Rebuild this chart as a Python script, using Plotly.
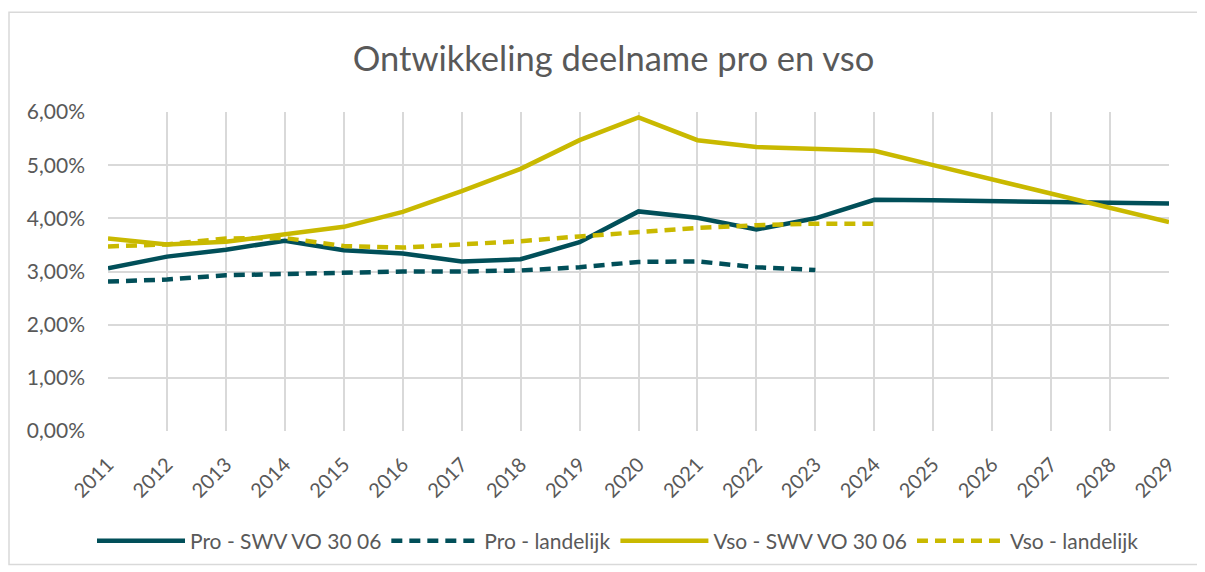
import plotly.graph_objects as go

years = list(range(2011, 2030))
pro_swv = [3.06, 3.28, 3.41, 3.58, 3.40, 3.34, 3.19, 3.23, 3.55, 4.13, 4.01, 3.79, 4.00,
           4.35, 4.34, 4.32, 4.31, 4.30, 4.28]
pro_land = [2.81, 2.85, 2.93, 2.96, 2.98, 3.00, 3.00, 3.02, 3.08, 3.18, 3.19, 3.08, 3.03]
vso_swv = [3.62, 3.51, 3.56, 3.69, 3.84, 4.12, 4.51, 4.93, 5.47, 5.90, 5.47, 5.34, 5.30,
           5.27, 5.00, 4.73, 4.46, 4.19, 3.93]
vso_land = [3.47, 3.51, 3.62, 3.63, 3.48, 3.45, 3.51, 3.57, 3.66, 3.74, 3.82, 3.87, 3.90, 3.90]
y_ticks = [0, 1, 2, 3, 4, 5, 6]
y_ticktext = ["0,00%", "1,00%", "2,00%", "3,00%", "4,00%", "5,00%", "6,00%"]

teal = "#014F59"
yellow = "#C9B900"
font = "Lato"

W, H = 1197, 564
L, R, T, B = 100, 36, 104, 140
pw, ph = W - L - R, H - T - B

fig = go.Figure()
fig.add_trace(go.Scatter(x=years, y=pro_swv, mode="lines", name="Pro - SWV VO 30 06",
                         line=dict(color=teal, width=4.5)))
fig.add_trace(go.Scatter(x=years[:len(pro_land)], y=pro_land, mode="lines", name="Pro - landelijk",
                         line=dict(color=teal, width=4.5, dash="11px,7px")))
fig.add_trace(go.Scatter(x=years, y=vso_swv, mode="lines", name="Vso - SWV VO 30 06",
                         line=dict(color=yellow, width=4.5)))
fig.add_trace(go.Scatter(x=years[:len(vso_land)], y=vso_land, mode="lines", name="Vso - landelijk",
                         line=dict(color=yellow, width=4.5, dash="11px,7px")))

fig.update_layout(
    width=W, height=H,
    margin=dict(l=L, r=R, t=T, b=B),
    paper_bgcolor="white", plot_bgcolor="white",
    font=dict(family=font, color="#595959", size=17),
    title=dict(text="Ontwikkeling deelname pro en vso", x=605.5 / W, xanchor="center",
               y=1 - 51 / H, yanchor="middle",
               font=dict(family=font, size=34.5, color="#595959")),
    xaxis=dict(range=[2011, 2029], tickmode="array", tickvals=years,
               ticktext=[str(y) for y in years], tickangle=-45,
               showgrid=True, gridcolor="#D9D9D9", gridwidth=1.5,
               zeroline=False, showline=False, ticks="", automargin=False,
               ticklabelstandoff=17,
               tickfont=dict(size=20, color="#595959")),
    yaxis=dict(range=[0, 6], tickmode="array", tickvals=y_ticks, ticktext=y_ticktext,
               showgrid=True, gridcolor="#D9D9D9", gridwidth=1.5,
               zeroline=False, showline=False, ticks="", automargin=False,
               ticklabelstandoff=22,
               tickfont=dict(size=21, color="#595959")),
    legend=dict(orientation="h", x=(610 - L) / pw, xanchor="center",
                y=-(533 - (T + ph)) / ph, yanchor="middle",
                font=dict(size=21, color="#595959"), itemwidth=88,
                traceorder="normal"),
    showlegend=True,
)

fig.add_shape(type="rect", xref="paper", yref="paper",
              x0=(1 - L) / pw, x1=(1191 - L) / pw,
              y0=-(558 - (T + ph)) / ph, y1=((T + ph) - 4) / ph,
              line=dict(color="#D9D9D9", width=1.5), fillcolor="rgba(0,0,0,0)", layer="below")

fig.write_html("out.html")
